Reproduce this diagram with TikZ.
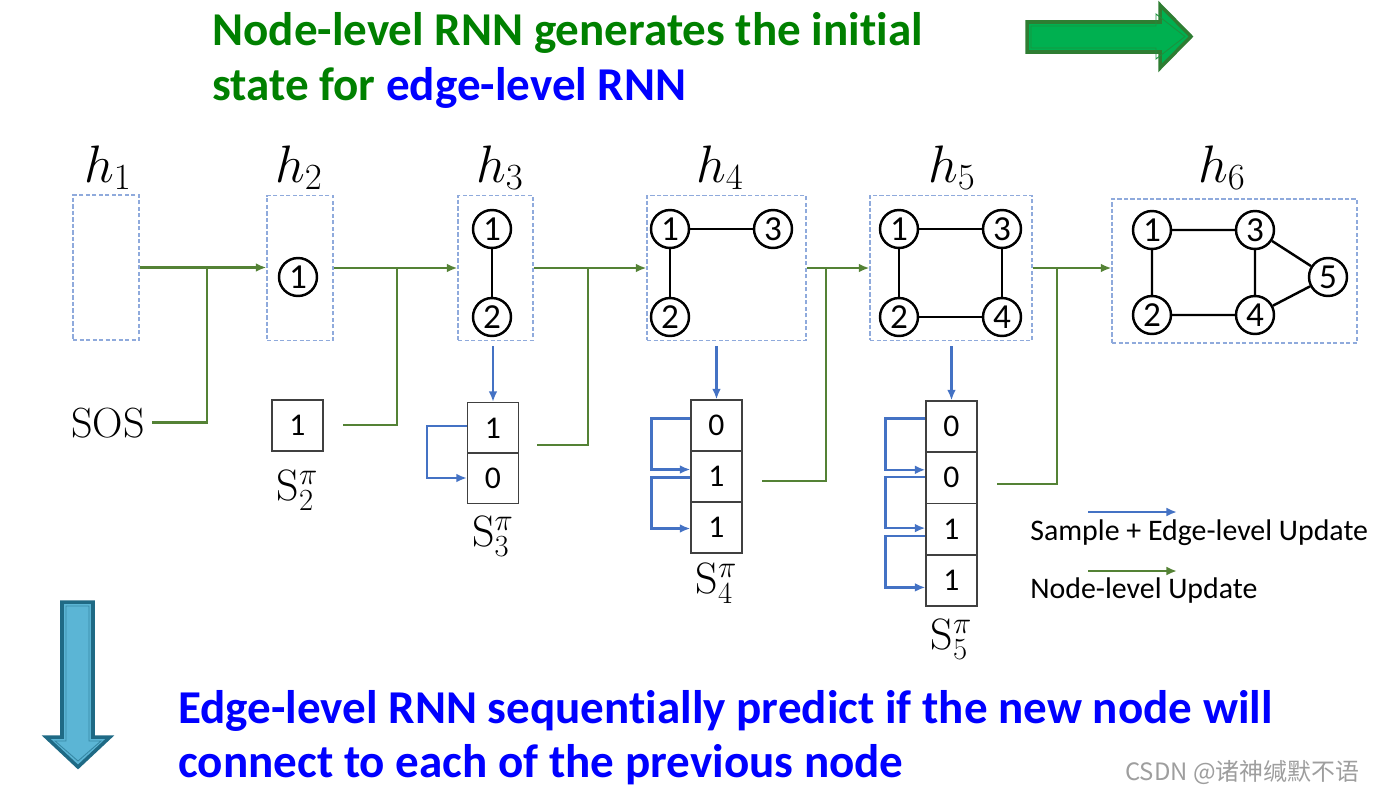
\documentclass[tikz,border=0pt]{standalone}
\usepackage{fix-cm}
\usepackage{fontspec}
\newfontfamily\calibri[Ligatures=NoCommon]{Carlito}
\newfontfamily\cjk{Noto Sans CJK SC}
\usetikzlibrary{arrows.meta,positioning,calc}
\definecolor{titlegreen}{RGB}{0,128,0}
\definecolor{titleblue}{RGB}{0,0,255}
\definecolor{nodegreen}{HTML}{548235}
\definecolor{edgeblue}{HTML}{4472C4}
\definecolor{boxblue}{HTML}{8FAADC}
\definecolor{arrowgreen}{HTML}{00B050}
\definecolor{arrowgreendark}{HTML}{2E7D32}
\definecolor{arrowteal}{HTML}{5BB5D5}
\definecolor{arrowtealdark}{HTML}{1F6A85}

\begin{document}
\begin{tikzpicture}[x=0.02cm, y=-0.02cm,
    hbox/.style={draw=boxblue, dash pattern=on 2.5pt off 1.2pt, line width=0.7pt, inner sep=0pt},
    vertex/.style={circle, draw, line width=1.4pt, minimum size=0.76cm, inner sep=0pt, font=\calibri\fontsize{20}{20}\selectfont},
    link/.style={line width=1.4pt},
    cell/.style={draw=black!75, line width=0.7pt, minimum size=1.02cm, inner sep=0pt, font=\calibri\fontsize{18}{18}\selectfont},
    head/.style={-{Latex[length=6pt,width=5pt]}},
    update/.style={nodegreen, line width=1.5pt},
    edgeupd/.style={edgeblue, line width=1.4pt, head},
    hname/.style={anchor=base, inner sep=0pt, font=\fontsize{30}{32}\selectfont},
    sname/.style={anchor=base, inner sep=0pt, font=\fontsize{25}{27}\selectfont},
    banner/.style={anchor=base west, inner sep=0pt, font=\calibri\bfseries\fontsize{26.8}{30}\selectfont}]
  \useasboundingbox (0,0) rectangle (1400,809);

  % titles
  \node[banner, titlegreen] (title1) at (212,45) {Node-level RNN generates the initial};
  \node[banner, titlegreen] (title2) at (212,100) {state for \textcolor{titleblue}{edge-level RNN}};
  \node[banner, titleblue] (bottom1) at (178,723) {Edge-level RNN sequentially predict if the new node will};
  \node[banner, titleblue] (bottom2) at (178,777) {connect to each of the previous node};

  % block arrows
  \draw[fill=arrowgreen, draw=arrowgreendark, line width=2pt, line join=miter]
    (1027,22) -- (1160,22) -- (1160,5) -- (1191,36.5) -- (1160,68) -- (1160,52) -- (1027,52) -- cycle;
  \draw[draw=arrowgreendark!60!arrowgreen, line width=0.5pt]
    (1031,26) -- (1156,26) -- (1156,14) -- (1185,36.5) -- (1156,59) -- (1156,48) -- (1031,48) -- cycle;
  \draw[fill=arrowteal, draw=arrowtealdark, line width=2pt, line join=miter]
    (62,602) -- (93,602) -- (93,737) -- (110,737) -- (78,767) -- (46,737) -- (62,737) -- cycle;
  \draw[draw=arrowtealdark!60!arrowteal, line width=0.5pt]
    (66,606) -- (89,606) -- (89,741) -- (101,741) -- (78,761) -- (55,741) -- (66,741) -- cycle;

  % hidden states
  \node[hbox, minimum width=1.32cm, minimum height=2.9cm] (h1box) at (106,267.5) {};
  \node[hbox, minimum width=1.32cm, minimum height=2.9cm] (h2box) at (300,268) {};
  \node[hbox, minimum width=1.5cm, minimum height=2.9cm] (h3box) at (495.5,268) {};
  \node[hbox, minimum width=3.18cm, minimum height=2.9cm] (h4box) at (726.5,268) {};
  \node[hbox, minimum width=3.24cm, minimum height=2.9cm] (h5box) at (951,268) {};
  \node[hbox, minimum width=4.9cm, minimum height=2.88cm] (h6box) at (1234.5,271) {};
  \foreach \i/\x in {1/108,2/299,3/500,4/720,5/952,6/1222}
    \node[hname] (hname\i) at (\x,182) {$h_{\i}$};

  % graphs
  \node[vertex] (g2-1) at (298,277) {1};
  \node[vertex] (g3-1) at (492,229) {1};
  \node[vertex] (g3-2) at (492,317) {2};
  \node[vertex] (g4-1) at (670,229) {1};
  \node[vertex] (g4-3) at (773,229) {3};
  \node[vertex] (g4-2) at (670,317) {2};
  \node[vertex] (g5-1) at (899,229) {1};
  \node[vertex] (g5-3) at (1002,229) {3};
  \node[vertex] (g5-2) at (899,317) {2};
  \node[vertex] (g5-4) at (1002,317) {4};
  \node[vertex] (g6-1) at (1152,230) {1};
  \node[vertex] (g6-3) at (1255,230) {3};
  \node[vertex] (g6-2) at (1152,315) {2};
  \node[vertex] (g6-4) at (1255,315) {4};
  \node[vertex] (g6-5) at (1328,277) {5};
  \draw[link] (g3-1) -- (g3-2);
  \draw[link] (g4-1) -- (g4-3) (g4-1) -- (g4-2);
  \draw[link] (g5-1) -- (g5-3) (g5-1) -- (g5-2) (g5-3) -- (g5-4) (g5-2) -- (g5-4);
  \draw[link] (g6-1) -- (g6-3) (g6-1) -- (g6-2) (g6-3) -- (g6-4) (g6-2) -- (g6-4)
    (g6-3) -- (g6-5) (g6-4) -- (g6-5);

  % adjacency vectors
  \node[anchor=base east, inner sep=4pt, font=\fontsize{24}{26}\selectfont] (sos) at (152,437) {SOS};
  \node[cell] (s2-1) at (297.5,425.5) {1};
  \foreach \v [count=\i] in {1,0}
    \node[cell] (s3-\i) at (493,{378+50*\i}) {\v};
  \foreach \v [count=\i] in {0,1,1}
    \node[cell] (s4-\i) at (716.5,{374.5+51*\i}) {\v};
  \foreach \v [count=\i] in {0,0,1,1}
    \node[cell] (s5-\i) at (951.5,{375.2+51.3*\i}) {\v};
  \node[sname] (sname2) at (297.5,500) {$\mathrm{S}_2^{\pi}$};
  \node[sname] (sname3) at (493,546) {$\mathrm{S}_3^{\pi}$};
  \node[sname] (sname4) at (716.5,593) {$\mathrm{S}_4^{\pi}$};
  \node[sname] (sname5) at (951.5,649) {$\mathrm{S}_5^{\pi}$};

  % node-level updates
  \coordinate (j1) at (207,268);
  \coordinate (j2) at (397,268);
  \coordinate (j3) at (588,268);
  \coordinate (j4) at (826,268);
  \coordinate (j5) at (1057,268);
  \coordinate (o2) at (343,425);
  \coordinate (o3) at (537,445);
  \coordinate (o4) at (762,481);
  \coordinate (o5) at (997,484);
  \draw[update, head] (h1box.east) -- (h1box.east -| h2box.west);
  \draw[update, head] (h2box.east) -- (h2box.east -| h3box.west);
  \draw[update, head] (h3box.east) -- (h3box.east -| h4box.west);
  \draw[update, head] (h4box.east) -- (h4box.east -| h5box.west);
  \draw[update, head] (h5box.east) -- (h5box.east -| h6box.west);
  \draw[update] (sos.east) -| (j1);
  \draw[update] (o2) -| (j2);
  \draw[update] (o3) -| (j3);
  \draw[update] (o4) -| (j4);
  \draw[update] (o5) -| (j5);

  % edge-level updates
  \draw[edgeupd] ($(h3box.south -| s3-1.north)+(0,5)$) -- (s3-1.north);
  \draw[edgeupd] ($(h4box.south -| s4-1.north)+(0,5)$) -- (s4-1.north);
  \draw[edgeupd] ($(h5box.south -| s5-1.north)+(0,5)$) -- (s5-1.north);
  \draw[edgeupd] ($(s3-1.west)+(0,-2)$) -- ++(-40,0) |- (s3-2.west);
  \foreach \i/\j/\d in {1/2/-7,2/3/1}
    \draw[edgeupd] ($(s4-\i.west)+(0,\d)$) -- ++(-39,0) |- ($(s4-\j.west)+(0,\d)$);
  \foreach \i/\j/\d in {1/2/-8,2/3/-1,3/4/7}
    \draw[edgeupd] ($(s5-\i.west)+(0,\d)$) -- ++(-40,0) |- ($(s5-\j.west)+(0,\d)$);

  % legend
  \coordinate (lg1) at (1088,512);
  \coordinate (lg2) at (1177,512);
  \coordinate (lg3) at (1088,571);
  \coordinate (lg4) at (1177,571);
  \draw[edgeupd] (lg1) -- (lg2);
  \draw[update, head] (lg3) -- (lg4);
  \node[anchor=base west, inner sep=0pt, font=\calibri\fontsize{17}{20}\selectfont] (legend1) at (1030,540) {Sample + Edge-level Update};
  \node[anchor=base west, inner sep=0pt, font=\calibri\fontsize{17}{20}\selectfont] (legend2) at (1030,598) {Node-level Update};

  % watermark
  \node[anchor=west, inner sep=0pt, text=black!38, font=\cjk\fontsize{13.6}{15}\selectfont] (mark) at (1125,773) {CSDN @诸神缄默不语};
\end{tikzpicture}
\end{document}
